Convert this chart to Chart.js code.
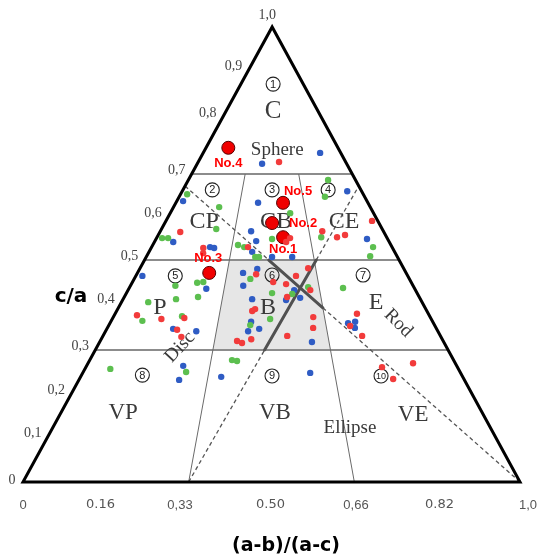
<!DOCTYPE html>
<html>
<head>
<meta charset="utf-8">
<script src="https://cdn.jsdelivr.net/npm/chart.js@4"></script>
<style>
  html, body { margin: 0; padding: 0; background: #fff; }
  #wrap { width: 542px; height: 556px; position: relative; }
</style>
</head>
<body>
<div id="wrap"><canvas id="shape"></canvas></div>
<script>
// Particle form data: elongation (a-b)/(a-c) and flatness c/a
const redElong = [0.548,0.091,0.216,0.222,0.579,0.561,0.401,0.726,0.784,0.822,0.973,0.072,0.154,0.225,0.214,0.233,0.442,0.505,0.589,0.638,0.551,0.552,0.634,0.437,0.446,0.631,0.626,0.546,0.399,0.414,0.440,0.772,0.740,0.768,0.797,0.816,0.885];
const redFlat  = [0.721,0.565,0.528,0.516,0.551,0.542,0.530,0.567,0.553,0.558,0.591,0.374,0.366,0.368,0.343,0.328,0.467,0.449,0.463,0.481,0.444,0.414,0.430,0.383,0.387,0.370,0.347,0.330,0.319,0.315,0.323,0.377,0.351,0.330,0.261,0.234,0.270];

const greenElong = [0.036,0.232,0.248,0.024,0.050,0.590,0.501,0.358,0.385,0.434,0.449,0.836,0.786,0.715,0.921,0.893,0.159,0.233,0.254,0.089,0.178,0.250,0.097,0.216,0.422,0.501,0.495,0.434,0.628,0.570,0.750,0.068,0.273,0.391,0.405];
const greenFlat  = [0.653,0.623,0.572,0.551,0.551,0.609,0.549,0.535,0.530,0.507,0.507,0.686,0.647,0.553,0.530,0.509,0.440,0.447,0.449,0.402,0.409,0.414,0.362,0.372,0.456,0.423,0.366,0.353,0.437,0.421,0.435,0.257,0.250,0.277,0.275];

const blueElong = [0.434,0.850,0.033,0.080,0.243,0.261,0.428,0.407,0.433,0.420,0.501,0.581,0.920,0.911,0.024,0.271,0.201,0.273,0.445,0.393,0.399,0.578,0.434,0.596,0.548,0.436,0.429,0.462,0.617,0.736,0.759,0.753,0.261,0.260,0.368,0.602];
const blueFlat  = [0.718,0.737,0.637,0.542,0.530,0.528,0.633,0.567,0.544,0.519,0.507,0.507,0.660,0.549,0.463,0.433,0.345,0.340,0.479,0.470,0.440,0.430,0.409,0.412,0.407,0.360,0.340,0.345,0.317,0.357,0.360,0.347,0.264,0.232,0.239,0.248];

const sampleNames = ['No.1','No.2','No.3','No.4','No.5'];
const sampleElong = [0.549,0.501,0.267,0.169,0.558];
const sampleFlat  = [0.553,0.586,0.470,0.746,0.633];

// Axis ticks
const flatTicks = [0,0.1,0.2,0.3,0.4,0.5,0.6,0.7,0.8,0.9,1.0];
const flatTickLabels = ['0','0,1','0,2','0,3','0,4','0,5','0,6','0,7','0,8','0,9','1,0'];
const elongTicks = [0,0.16,0.33,0.50,0.66,0.82,1.0];
const elongTickLabels = ['0','0.16','0,33','0.50','0,66','0.82','1,0'];

// Class boundaries
const flatBounds = [0.3,0.5,0.7];
const elongBounds = [1/3,2/3];

// ---- layout of the triangle ----
const APEX_X = 0.5013;                         // apex position along the base
const flatKnots   = [0,0.1,0.2,0.3,0.4,0.5,0.6,0.7,0.8,0.9,1];
const heightKnots = [0,0.0989,0.1934,0.2901,0.3934,0.4879,0.5824,0.6769,0.8022,0.9055,1];

function flatToH(v){
  for (let i=0;i<flatKnots.length-1;i++){
    if (v<=flatKnots[i+1]){
      const t=(v-flatKnots[i])/(flatKnots[i+1]-flatKnots[i]);
      return heightKnots[i]+t*(heightKnots[i+1]-heightKnots[i]);
    }
  }
  return 1;
}
function project(p, f){
  const h = flatToH(f);
  return { x: APEX_X*h + p*(1-h), y: h };
}
function pts(el, fl){ return el.map((p,i)=>project(p, fl[i])); }

function px(chart, p, f){
  const q = project(p, f);
  return { x: chart.scales.x.getPixelForValue(q.x), y: chart.scales.y.getPixelForValue(q.y) };
}
function cross(a,b,c,d){
  const den=(a.x-b.x)*(c.y-d.y)-(a.y-b.y)*(c.x-d.x);
  const t=((a.x-c.x)*(c.y-d.y)-(a.y-c.y)*(c.x-d.x))/den;
  return { x:a.x+t*(b.x-a.x), y:a.y+t*(b.y-a.y) };
}
function seg(ctx, a, b, dashed){
  ctx.save();
  ctx.beginPath();
  if (dashed){ ctx.setLineDash([4,3]); ctx.lineWidth=1.3; ctx.strokeStyle='#555'; }
  else { ctx.lineWidth=3; ctx.strokeStyle='#505050'; ctx.lineCap='round'; }
  ctx.moveTo(a.x,a.y); ctx.lineTo(b.x,b.y); ctx.stroke();
  ctx.restore();
}

// region names and class numbers, in (elongation, flatness) coordinates
const regionText = [
  {t:'C', p:0.511, f:0.811, size:25},
  {t:'Sphere', p:0.539, f:0.742, size:19},
  {t:'CP', p:0.182, f:0.588, size:24},
  {t:'CB', p:0.520, f:0.588, size:24},
  {t:'CE', p:0.839, f:0.588, size:24},
  {t:'P', p:0.135, f:0.391, size:24},
  {t:'B', p:0.488, f:0.389, size:24},
  {t:'E', p:0.846, f:0.400, size:24},
  {t:'Rod', p:0.891, f:0.357, size:19, rot:45},
  {t:'Disc', p:0.238, f:0.306, size:19, rot:-47},
  {t:'VP', p:0.148, f:0.156, size:23},
  {t:'VB', p:0.508, f:0.156, size:23},
  {t:'VE', p:0.834, f:0.151, size:23},
  {t:'Ellipse', p:0.679, f:0.121, size:19}
];
const classMarks = [
  {n:'1', p:0.517, f:0.870}, {n:'2', p:0.165, f:0.663}, {n:'3', p:0.501, f:0.663},
  {n:'4', p:0.816, f:0.663}, {n:'5', p:0.145, f:0.463}, {n:'6', p:0.501, f:0.465},
  {n:'7', p:0.837, f:0.465}, {n:'8', p:0.160, f:0.243}, {n:'9', p:0.501, f:0.241},
  {n:'10', p:0.787, f:0.241}
];
const sampleLabelOffset = [[0,12],[31,0],[-1,-14],[0,16],[15,-11]];
const elongLabelNudge = [0,-2,-7,-1,5,9,8];

const framePlugin = {
  id: 'frame',
  beforeDatasetsDraw(chart){
    const ctx = chart.ctx;
    ctx.save();
    // shaded central class
    const q1=px(chart,elongBounds[0],0.3), q2=px(chart,elongBounds[1],0.3),
          q3=px(chart,elongBounds[1],0.5), q4=px(chart,elongBounds[0],0.5);
    ctx.fillStyle='#e6e6e6';
    ctx.beginPath(); ctx.moveTo(q1.x,q1.y); ctx.lineTo(q2.x,q2.y); ctx.lineTo(q3.x,q3.y); ctx.lineTo(q4.x,q4.y); ctx.closePath(); ctx.fill();

    // flatness class lines
    ctx.strokeStyle='#8c8c8c'; ctx.lineWidth=2;
    flatBounds.forEach(f=>{
      const a=px(chart,0,f), b=px(chart,1,f);
      ctx.beginPath(); ctx.moveTo(a.x,a.y); ctx.lineTo(b.x,b.y); ctx.stroke();
    });
    // elongation class lines
    ctx.strokeStyle='#6a6a6a'; ctx.lineWidth=1;
    elongBounds.forEach(p=>{
      const a=px(chart,p,0), b=px(chart,p,0.7);
      ctx.beginPath(); ctx.moveTo(a.x,a.y); ctx.lineTo(b.x,b.y); ctx.stroke();
    });

    // disc-rod line
    const A=px(chart,0,0.672), B=px(chart,1,0);
    const I1=cross(A,B,px(chart,0,0.5),px(chart,1,0.5));
    const I2=cross(A,B,px(chart,2/3,0),px(chart,2/3,1));
    seg(ctx,A,I1,true); seg(ctx,I2,B,true); seg(ctx,I1,I2,false);
    // ellipse line
    const C=px(chart,1/3,0), D=px(chart,1,0.672);
    const J1=cross(C,D,px(chart,0,0.3),px(chart,1,0.3));
    const J2=cross(C,D,px(chart,0,0.5),px(chart,1,0.5));
    seg(ctx,C,J1,true); seg(ctx,J2,D,true); seg(ctx,J1,J2,false);

    // triangle outline
    const L=px(chart,0,0), R=px(chart,1,0), T=px(chart,0,1);
    ctx.strokeStyle='#000'; ctx.lineWidth=3; ctx.lineJoin='miter';
    ctx.beginPath(); ctx.moveTo(L.x,L.y); ctx.lineTo(R.x,R.y); ctx.lineTo(T.x,T.y); ctx.closePath(); ctx.stroke();

    // region names
    ctx.fillStyle='#3a3a3a'; ctx.textAlign='center'; ctx.textBaseline='middle';
    regionText.forEach(r=>{
      const q=px(chart,r.p,r.f);
      ctx.save(); ctx.translate(q.x,q.y);
      if (r.rot) ctx.rotate(r.rot*Math.PI/180);
      ctx.font=r.size+'px "Liberation Serif", serif';
      ctx.fillText(r.t,0,0);
      ctx.restore();
    });
    // class numbers
    classMarks.forEach(m=>{
      const q=px(chart,m.p,m.f);
      ctx.beginPath(); ctx.arc(q.x,q.y,7,0,Math.PI*2);
      ctx.strokeStyle='#222'; ctx.lineWidth=1.1; ctx.stroke();
      ctx.fillStyle='#222';
      ctx.font=(m.n.length>1?'9px':'11px')+' "Liberation Sans", sans-serif';
      ctx.fillText(m.n,q.x,q.y+0.5);
    });

    // flatness tick labels along the left side
    ctx.fillStyle='#444'; ctx.font='14px "Liberation Serif", serif';
    flatTicks.forEach((f,i)=>{
      const q=px(chart,0,f);
      let dx=-15, dy=-4;
      if (i===0){ dx=-11; dy=-2; }
      if (i===flatTicks.length-1){ dx=-5; dy=-12; }
      ctx.fillText(flatTickLabels[i],q.x+dx,q.y+dy);
    });
    // elongation tick labels along the base
    elongTicks.forEach((p,i)=>{
      const q=px(chart,p,0);
      const lbl=elongTickLabels[i];
      ctx.fillStyle='#555';
      ctx.font = lbl.indexOf('.')>=0 ? '13px "DejaVu Sans", sans-serif' : '13px "Liberation Sans", sans-serif';
      ctx.fillText(lbl,q.x+elongLabelNudge[i],q.y+23);
    });

    // axis titles
    ctx.fillStyle='#000';
    ctx.font='bold 20px "DejaVu Sans", sans-serif';
    ctx.fillText('c/a',71,297);
    ctx.font='bold 19px "DejaVu Sans", sans-serif';
    ctx.fillText('(a-b)/(a-c)',286,546);
    ctx.restore();
  },
  afterDatasetsDraw(chart){
    const ctx=chart.ctx;
    ctx.save();
    ctx.fillStyle='#ff0000'; ctx.font='bold 13px "Liberation Sans", sans-serif';
    ctx.textAlign='center'; ctx.textBaseline='middle';
    sampleNames.forEach((n,i)=>{
      const q=px(chart,sampleElong[i],sampleFlat[i]);
      ctx.fillText(n,q.x+sampleLabelOffset[i][0],q.y+sampleLabelOffset[i][1]);
    });
    ctx.restore();
  }
};

const small = {pointRadius:3.2, pointBorderWidth:0, clip:false};
new Chart(document.getElementById('shape'), {
  type: 'scatter',
  data: {
    datasets: [
      Object.assign({label:'red', data:pts(redElong,redFlat), backgroundColor:'#f23b3b'}, small),
      Object.assign({label:'green', data:pts(greenElong,greenFlat), backgroundColor:'#5cbf4f'}, small),
      Object.assign({label:'blue', data:pts(blueElong,blueFlat), backgroundColor:'#2f5cc4'}, small),
      {label:'samples', data:pts(sampleElong,sampleFlat), backgroundColor:'#f00000',
       borderColor:'#550000', pointBorderWidth:1, pointRadius:6.5, clip:false}
    ]
  },
  options: {
    responsive: true, maintainAspectRatio: false, animation: false,
    layout: { padding: { left: 23, right: 22, top: 27, bottom: 74 } },
    scales: {
      x: { type:'linear', min:0, max:1, display:false },
      y: { type:'linear', min:0, max:1, display:false }
    },
    plugins: { legend:{display:false}, tooltip:{enabled:false} }
  },
  plugins: [framePlugin]
});
</script>
</body>
</html>
